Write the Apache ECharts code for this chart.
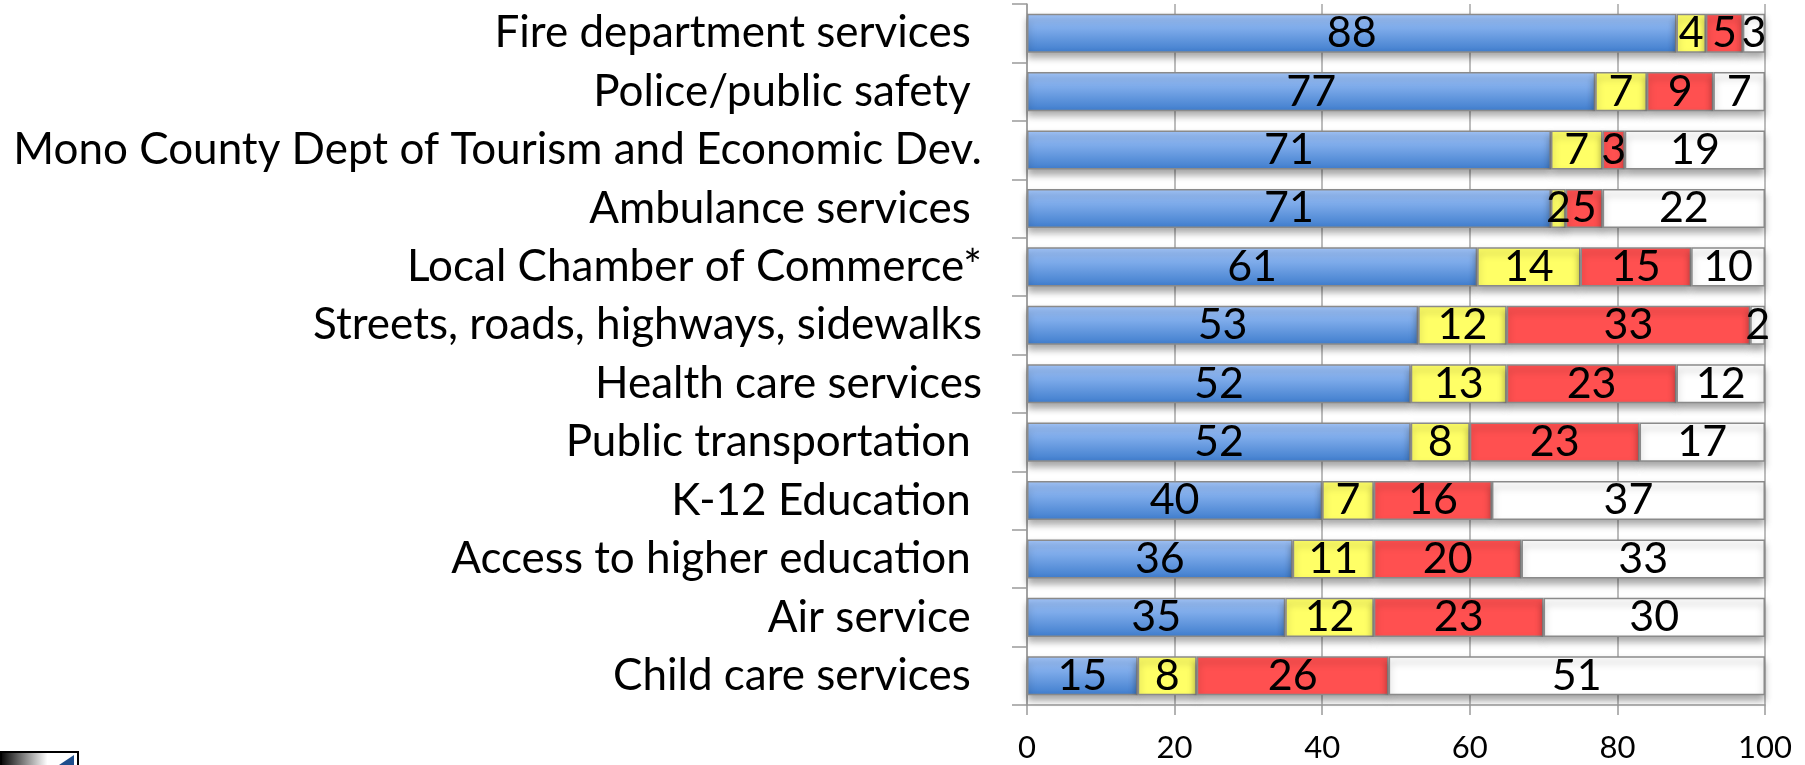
<!DOCTYPE html>
<html>
<head>
<meta charset="utf-8">
<title>Service ratings</title>
<script src="https://cdn.jsdelivr.net/npm/echarts@6/dist/echarts.min.js"></script>
<style>
  html, body { margin: 0; padding: 0; background: #ffffff; }
  #chart { width: 1805px; height: 765px; }
</style>
</head>
<body>
<div id="chart"></div>
<script>
// Service categories, top to bottom (trailing spaces kept as in the source labels)
const categories = [
  'Fire department services ',
  'Police/public safety ',
  'Mono County Dept of Tourism and Economic Dev.',
  'Ambulance services ',
  'Local Chamber of Commerce*',
  'Streets, roads, highways, sidewalks',
  'Health care services',
  'Public transportation ',
  'K-12 Education ',
  'Access to higher education ',
  'Air service ',
  'Child care services '
];

// Percent of responses per rating bucket
const blueValues   = [88, 77, 71, 71, 61, 53, 52, 52, 40, 36, 35, 15];
const yellowValues = [4, 7, 7, 2, 14, 12, 13, 8, 7, 11, 12, 8];
const redValues    = [5, 9, 3, 5, 15, 33, 23, 23, 16, 20, 23, 26];
const whiteValues  = [3, 7, 19, 22, 10, 2, 12, 17, 37, 33, 30, 51];

const xTicks = [0, 20, 40, 60, 80, 100];

const FONT = 'Lato';
const chart = echarts.init(document.getElementById('chart'), null, { renderer: 'canvas' });

const segBorder = { borderColor: '#8a8a8a', borderWidth: 1.5,
  shadowColor: 'rgba(0,0,0,0.35)', shadowBlur: 7, shadowOffsetY: 5 };

function seg(name, data, color) {
  return {
    name: name,
    type: 'bar',
    stack: 'total',
    data: data,
    barCategoryGap: '33%',
    itemStyle: Object.assign({ color: color }, segBorder),
    label: {
      show: true,
      position: 'inside',
      formatter: '{c}',
      color: '#000000',
      fontFamily: FONT,
      fontSize: 43
    },
    emphasis: { disabled: true }
  };
}

const blueGrad = new echarts.graphic.LinearGradient(0, 0, 0, 1, [
  { offset: 0, color: '#a4c7fc' },
  { offset: 1, color: '#3f7dcd' }
]);

chart.setOption({
  animation: false,
  backgroundColor: '#ffffff',
  grid: { left: 1027, right: 40, top: 4, bottom: 60, containLabel: false },
  xAxis: {
    type: 'value',
    min: 0,
    max: 100,
    interval: 20,
    axisLine: { show: true, lineStyle: { color: '#9a9a9a', width: 1.5 } },
    axisTick: { show: true, length: 10, lineStyle: { color: '#9a9a9a', width: 1.5 } },
    splitLine: { show: true, lineStyle: { color: '#a6a6a6', width: 1.5 } },
    axisLabel: {
      margin: 27,
      color: '#000000',
      fontFamily: FONT,
      fontSize: 31,
      formatter: function (v) { return xTicks.indexOf(v) >= 0 ? String(v) : ''; }
    }
  },
  yAxis: {
    type: 'category',
    inverse: true,
    data: categories,
    axisLine: { show: true, lineStyle: { color: '#9a9a9a', width: 1.5 } },
    axisTick: { show: true, length: 15, lineStyle: { color: '#9a9a9a', width: 1.5 } },
    axisLabel: {
      margin: 45,
      color: '#000000',
      fontFamily: FONT,
      fontSize: 44
    },
    splitLine: { show: false }
  },
  series: [
    seg('blue', blueValues, blueGrad),
    seg('yellow', yellowValues, '#ffff66'),
    seg('red', redValues, '#ff5050'),
    seg('white', whiteValues, '#ffffff')
  ],
  graphic: [
    {
      type: 'group',
      left: 0,
      top: 751,
      children: [
        {
          type: 'rect',
          shape: { x: 1, y: 1, width: 77, height: 20 },
          style: {
            fill: new echarts.graphic.LinearGradient(0, 0, 1, 0, [
              { offset: 0, color: '#000000' },
              { offset: 0.6, color: '#ffffff' },
              { offset: 1, color: '#ffffff' }
            ]),
            stroke: '#000000',
            lineWidth: 2
          }
        },
        {
          type: 'polygon',
          shape: { points: [[50, 20], [74, 4], [74, 20]] },
          style: { fill: '#1f4e8c' }
        }
      ]
    }
  ]
});
</script>
</body>
</html>
